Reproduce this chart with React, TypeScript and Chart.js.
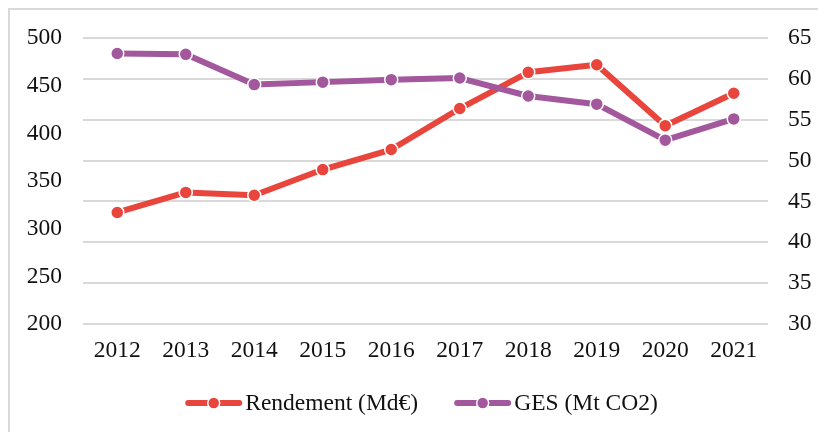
import React, { useEffect, useRef } from 'react';
import { Chart, registerables } from 'chart.js';

Chart.register(...registerables);

const years = ['2012', '2013', '2014', '2015', '2016', '2017', '2018', '2019', '2020', '2021'];
const rendement = [317, 338, 335, 362, 383, 426, 464, 472, 408, 442];
const ges = [63.1, 63.0, 59.3, 59.6, 59.9, 60.1, 57.9, 56.9, 52.5, 55.1];
const seriesNames = ['Rendement (Md€)', 'GES (Mt CO2)'];
const seriesColors = ['#e8453c', '#a3579c'];
const leftAxis = { min: 200, max: 500, step: 50 };
const rightAxis = { min: 30, max: 65, step: 5 };

const FONT_FAMILY = '"Liberation Serif", "Times New Roman", serif';
const FONT_SIZE = 23.5;
const TEXT_COLOR = '#111111';
const GRID_COLOR = '#d9d9d9';

const legendPlugin = {
  id: 'lineMarkerLegend',
  afterDraw(chart: any) {
    const ctx = chart.ctx as CanvasRenderingContext2D;
    ctx.save();
    ctx.font = `${FONT_SIZE}px ${FONT_FAMILY}`;
    const markerW = 57;
    const gap = 3;
    const spacing = 36;
    const items = chart.data.datasets.map((ds: any) => ({
      label: ds.label as string,
      color: ds.borderColor as string,
      w: ctx.measureText(ds.label).width,
    }));
    const total =
      items.reduce((s: number, it: any) => s + markerW + gap + it.w, 0) + spacing * (items.length - 1);
    const ca = chart.chartArea;
    let x = (ca.left + ca.right) / 2 - total / 2 - 4;
    const y = chart.height - 29;
    items.forEach((it: any) => {
      ctx.strokeStyle = it.color;
      ctx.lineWidth = 6;
      ctx.lineCap = 'round';
      ctx.beginPath();
      ctx.moveTo(x + 3, y);
      ctx.lineTo(x + markerW - 3, y);
      ctx.stroke();
      ctx.beginPath();
      ctx.arc(x + markerW / 2, y, 6, 0, Math.PI * 2);
      ctx.fillStyle = it.color;
      ctx.fill();
      ctx.lineWidth = 1.5;
      ctx.strokeStyle = '#ffffff';
      ctx.stroke();
      ctx.fillStyle = TEXT_COLOR;
      ctx.textBaseline = 'middle';
      ctx.textAlign = 'left';
      ctx.fillText(it.label, x + markerW + gap, y + 1);
      x += markerW + gap + it.w + spacing;
    });
    ctx.restore();
  },
};

export default function App() {
  const canvasRef = useRef<HTMLCanvasElement | null>(null);

  useEffect(() => {
    if (!canvasRef.current) return;
    const tickFont = { family: FONT_FAMILY, size: FONT_SIZE };
    const chart = new Chart(canvasRef.current, {
      type: 'line',
      data: {
        labels: years,
        datasets: [
          {
            label: seriesNames[0],
            data: rendement,
            yAxisID: 'y',
            borderColor: seriesColors[0],
            backgroundColor: seriesColors[0],
            pointBackgroundColor: seriesColors[0],
            pointBorderColor: '#ffffff',
            pointBorderWidth: 1.5,
            pointRadius: 6.5,
            borderWidth: 6,
            borderJoinStyle: 'round',
            borderCapStyle: 'round',
            tension: 0,
            order: 2,
          },
          {
            label: seriesNames[1],
            data: ges,
            yAxisID: 'y1',
            borderColor: seriesColors[1],
            backgroundColor: seriesColors[1],
            pointBackgroundColor: seriesColors[1],
            pointBorderColor: '#ffffff',
            pointBorderWidth: 1.5,
            pointRadius: 6.5,
            borderWidth: 6,
            borderJoinStyle: 'round',
            borderCapStyle: 'round',
            tension: 0,
            order: 1,
          },
        ],
      },
      options: {
        responsive: false,
        animation: false,
        layout: { padding: { top: 28, bottom: 58, left: 0, right: 0 } },
        plugins: {
          legend: { display: false },
          tooltip: { enabled: false },
        },
        scales: {
          x: {
            type: 'category',
            offset: true,
            grid: { display: false, drawTicks: false },
            border: { display: false },
            ticks: { font: tickFont, color: TEXT_COLOR, padding: 13, maxRotation: 0, autoSkip: false },
            afterFit: (s: any) => {
              s.height = 50;
              s.paddingLeft = 0;
              s.paddingRight = 0;
            },
          },
          y: {
            position: 'left',
            min: leftAxis.min,
            max: leftAxis.max,
            grid: { display: false, drawTicks: false },
            border: { display: false },
            ticks: { stepSize: leftAxis.step, font: tickFont, color: TEXT_COLOR, padding: 21 },
            afterFit: (s: any) => {
              s.width = 73;
              s.paddingTop = 0;
              s.paddingBottom = 0;
            },
          },
          y1: {
            position: 'right',
            min: rightAxis.min,
            max: rightAxis.max,
            grid: { display: true, color: GRID_COLOR, lineWidth: 2, drawTicks: false },
            border: { display: false },
            ticks: { stepSize: rightAxis.step, font: tickFont, color: TEXT_COLOR, padding: 20 },
            afterFit: (s: any) => {
              s.width = 50;
              s.paddingTop = 0;
              s.paddingBottom = 0;
            },
          },
        },
      },
      plugins: [legendPlugin],
    } as any);
    return () => chart.destroy();
  }, []);

  return (
    <div
      style={{
        position: 'fixed',
        left: 8,
        top: 8,
        width: 808,
        height: 422,
        borderTop: `2px solid ${GRID_COLOR}`,
        borderLeft: `2px solid ${GRID_COLOR}`,
        background: '#ffffff',
      }}
    >
      <canvas ref={canvasRef} width={808} height={422} style={{ display: 'block', width: 808, height: 422 }} />
    </div>
  );
}
